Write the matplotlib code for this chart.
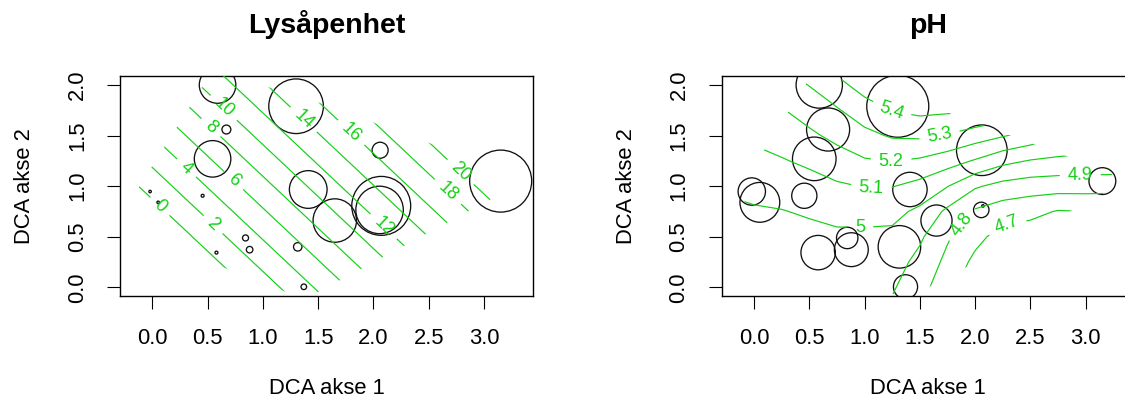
import numpy as np
import matplotlib
matplotlib.use("Agg")
import matplotlib.pyplot as plt
from matplotlib.patches import Polygon

plt.rcParams['font.family'] = ['Liberation Sans', 'DejaVu Sans']

DPI = 100
GREEN = '#14d014'

# site scores on DCA axis 1 and 2
site_x = [0.59, 1.30, 0.67, 0.545, 2.06, 3.15, 1.41, 2.055, 2.07, 1.65,
          -0.02, 0.053, 0.455, 0.58, 0.843, 0.88, 1.315, 1.37]
site_y = [2.00, 1.79, 1.56, 1.27, 1.355, 1.05, 0.967, 0.765, 0.805, 0.66,
          0.947, 0.84, 0.905, 0.343, 0.488, 0.372, 0.40, 0.005]

# measured variables per site (bubble sizes)
lys = [14.3, 21.9, 2.7, 14.3, 5.7, 25.0, 14.8, 18.9, 23.7, 17.2,
       0.0, 0.0, 0.2, 0.2, 1.5, 1.7, 2.5, 1.3]
ph = [5.31, 5.60, 5.25, 5.26, 5.39, 4.95, 5.09, 4.74, 4.50, 5.03,
      4.96, 5.19, 4.92, 5.09, 4.85, 5.08, 5.24, 4.90]

# fitted surfaces
lys_grid_x = [-0.5, 0.0, 0.5, 1.0, 1.5, 2.0, 2.5, 3.0, 3.5]
lys_grid_y = [-0.5, 0.0, 0.5, 1.0, 1.5, 2.0, 2.5]
lys_surface = [
    [-12.03, -8.75, -5.47, -2.19, 1.09, 4.37, 7.65, 10.93, 14.21],
    [-8.84, -5.56, -2.28, 1.00, 4.28, 7.56, 10.84, 14.12, 17.40],
    [-5.65, -2.37, 0.91, 4.19, 7.47, 10.75, 14.03, 17.31, 20.59],
    [-2.46, 0.82, 4.10, 7.38, 10.66, 13.94, 17.22, 20.50, 23.78],
    [0.73, 4.01, 7.29, 10.57, 13.85, 17.13, 20.41, 23.69, 26.97],
    [3.92, 7.20, 10.48, 13.76, 17.04, 20.32, 23.60, 26.88, 30.16],
    [7.11, 10.39, 13.67, 16.95, 20.23, 23.51, 26.79, 30.07, 33.35],
]
lys_levels = [0, 2, 4, 6, 8, 10, 12, 14, 16, 18, 20]

ph_grid_x = [-0.25, 0.0, 0.25, 0.5, 0.75, 1.0, 1.25, 1.5, 1.75, 2.0, 2.25, 2.5, 2.75, 3.0, 3.25]
ph_grid_y = [-0.25, 0.0, 0.25, 0.5, 0.75, 1.0, 1.25, 1.5, 1.75, 2.0, 2.25]
ph_surface = [
    [4.93, 4.93, 4.93, 4.93, 4.93, 4.92, 4.88, 4.83, 4.69, 4.61, 4.58, 4.58, 4.59, 4.59, 4.59],
    [4.94, 4.94, 4.94, 4.94, 4.935, 4.93, 4.91, 4.84, 4.73, 4.64, 4.60, 4.60, 4.61, 4.61, 4.61],
    [4.96, 4.955, 4.955, 4.955, 4.95, 4.945, 4.944, 4.87, 4.775, 4.675, 4.62, 4.62, 4.63, 4.63, 4.63],
    [4.97, 4.97, 4.975, 4.97, 4.98, 4.975, 4.978, 4.916, 4.811, 4.73, 4.66, 4.65, 4.66, 4.66, 4.66],
    [4.975, 4.99, 4.996, 5.012, 5.032, 5.042, 5.028, 4.98, 4.879, 4.787, 4.747, 4.726, 4.694, 4.70, 4.70],
    [5.015, 5.028, 5.044, 5.063, 5.087, 5.104, 5.104, 5.068, 5.003, 4.912, 4.868, 4.849, 4.844, 4.843, 4.84],
    [5.057, 5.074, 5.093, 5.118, 5.156, 5.191, 5.203, 5.185, 5.144, 5.091, 5.028, 4.994, 4.978, 4.973, 4.97],
    [5.099, 5.117, 5.143, 5.181, 5.226, 5.272, 5.311, 5.317, 5.293, 5.249, 5.208, 5.163, 5.108, 5.077, 5.06],
    [5.135, 5.159, 5.193, 5.242, 5.29, 5.356, 5.405, 5.424, 5.417, 5.406, 5.376, 5.32, 5.274, 5.24, 5.21],
    [5.172, 5.202, 5.253, 5.303, 5.371, 5.44, 5.48, 5.50, 5.50, 5.49, 5.47, 5.42, 5.40, 5.36, 5.33],
    [5.21, 5.26, 5.32, 5.384, 5.45, 5.53, 5.56, 5.58, 5.58, 5.57, 5.55, 5.52, 5.50, 5.47, 5.44],
]
ph_levels = [4.7, 4.8, 4.9, 5.0, 5.1, 5.2, 5.3, 5.4]

# where the contour labels sit
lys_label_pos = [(0.07, 0.80), (0.55, 0.62), (0.31, 1.18), (0.73, 1.05), (0.54, 1.59),
                 (0.66, 1.79), (2.09, 0.60), (1.37, 1.66), (1.79, 1.52), (2.66, 0.93),
                 (2.78, 1.13)]
ph_label_pos = [(2.28, 0.63), (1.87, 0.63), (2.95, 1.11), (0.96, 0.58), (1.06, 0.98),
                (1.24, 1.24), (1.68, 1.49), (1.24, 1.74)]

x_ticks = [0.0, 0.5, 1.0, 1.5, 2.0, 2.5, 3.0]
y_ticks = [0.0, 0.5, 1.0, 1.5, 2.0]


def bubble_sizes(values):
    v = np.array(values, dtype=float)
    cex = (v - v.min()) / (v.max() - v.min()) * (10 - 0.4) + 0.4
    r_px = 3.1 * cex
    return (2 * r_px * 72 / DPI) ** 2


def convex_hull(points):
    pts = sorted(set(points))

    def cross(o, a, b):
        return (a[0] - o[0]) * (b[1] - o[1]) - (a[1] - o[1]) * (b[0] - o[0])

    lower, upper = [], []
    for p in pts:
        while len(lower) >= 2 and cross(lower[-2], lower[-1], p) <= 0:
            lower.pop()
        lower.append(p)
    for p in reversed(pts):
        while len(upper) >= 2 and cross(upper[-2], upper[-1], p) <= 0:
            upper.pop()
        upper.append(p)
    return lower[:-1] + upper[:-1]


def mask_polygon(buffer=0.11):
    # hull of the sites, widened a little
    ang = np.linspace(0, 2 * np.pi, 32, endpoint=False)
    pts = []
    for x, y in zip(site_x, site_y):
        for a in ang:
            pts.append((x + buffer * np.cos(a), y + buffer * np.sin(a)))
    return np.array(convex_hull(pts))


def panel(ax, title, values, gx, gy, surface, levels, label_pos):
    ax.set_xlim(-0.292, 3.445)
    ax.set_ylim(-0.083, 2.092)

    ax.scatter(site_x, site_y, s=bubble_sizes(values), facecolors='none',
               edgecolors='#111111', linewidths=0.95, zorder=2)

    cs = ax.contour(gx, gy, np.array(surface), levels=levels, colors=GREEN,
                    linewidths=0.85, zorder=3)
    ax.clabel(cs, inline=True, fontsize=13, fmt=lambda v: f"{v:g}",
              manual=label_pos, inline_spacing=8)
    hull = Polygon(mask_polygon(), closed=True, transform=ax.transData,
                   facecolor='none', edgecolor='none')
    cs.set_clip_path(hull)

    ax.set_xticks(x_ticks, [f"{t:.1f}" for t in x_ticks])
    ax.set_yticks(y_ticks, [f"{t:.1f}" for t in y_ticks])
    for lab in ax.get_yticklabels():
        lab.set_rotation(90)
        lab.set_va('center')
    ax.tick_params(direction='out', length=9.4, width=0.8, pad=13.7,
                   labelsize=15.8, colors='black')
    for sp in ax.spines.values():
        sp.set_linewidth(1.0)

    ax.set_title(title, fontsize=20.5, fontweight='bold', pad=30.5)
    ax.set_xlabel("DCA akse 1", fontsize=15.8)
    ax.set_ylabel("DCA akse 2", fontsize=15.8)
    ax.xaxis.label.set_va('center')
    ax.yaxis.label.set_va('center')
    ax.xaxis.set_label_coords(0.5, -0.424)
    ax.yaxis.set_label_coords(-0.230, 0.5)


if __name__ == "__main__":
    fig = plt.figure(figsize=(1125 / DPI, 398 / DPI), dpi=DPI)
    ax1 = fig.add_axes([120 / 1125, 1 - 295.7 / 398, 413.3 / 1125, 220 / 398])
    ax2 = fig.add_axes([721.7 / 1125, 1 - 295.7 / 398, 413.3 / 1125, 220 / 398])

    panel(ax1, "Lysåpenhet", lys, lys_grid_x, lys_grid_y, lys_surface,
          lys_levels, lys_label_pos)
    panel(ax2, "pH", ph, ph_grid_x, ph_grid_y, ph_surface,
          ph_levels, ph_label_pos)

    fig.savefig("out.png", dpi=DPI)
